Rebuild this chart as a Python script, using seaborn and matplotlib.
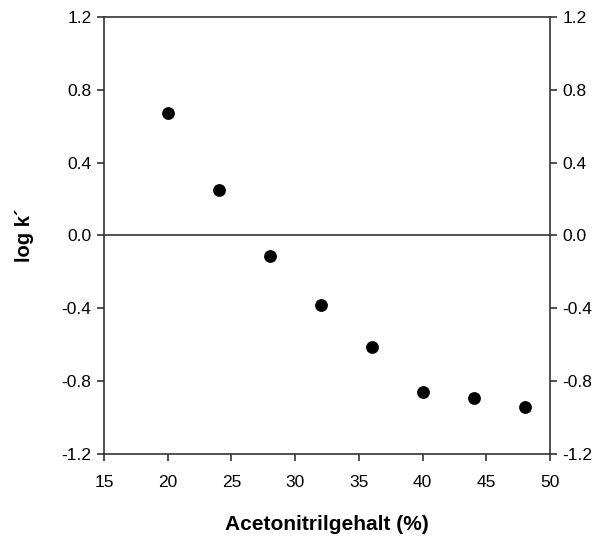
import pandas as pd
import matplotlib
matplotlib.use("Agg")
import matplotlib.pyplot as plt
import seaborn as sns

# Acetonitrile content (%) vs. log k'
acetonitril = [20, 24, 28, 32, 36, 40, 44, 48]
log_k = [0.67, 0.25, -0.11, -0.38, -0.61, -0.86, -0.89, -0.94]

xticks = [15, 20, 25, 30, 35, 40, 45, 50]
yticks = [-1.2, -0.8, -0.4, 0.0, 0.4, 0.8, 1.2]

df = pd.DataFrame({"x": acetonitril, "y": log_k})

sns.set_style("white")
plt.rcParams['font.family'] = ['Liberation Sans', 'DejaVu Sans']
plt.rcParams['text.color'] = 'black'
plt.rcParams['xtick.color'] = 'black'
plt.rcParams['ytick.color'] = 'black'
plt.rcParams['axes.labelcolor'] = 'black'

fig = plt.figure(figsize=(5.94, 5.37), dpi=100)
ax = fig.add_axes([0.175, 0.1546, 0.751, 0.8138])

sns.scatterplot(data=df, x="x", y="y", ax=ax, color="black", s=85,
                edgecolor="black", linewidth=0, zorder=3)
ax.axhline(0, color="#333333", linewidth=1.2, zorder=2)

ax.set_xlim(15, 50)
ax.set_ylim(-1.2, 1.2)
ax.set_xticks(xticks)
ax.set_yticks(yticks)
ax.set_yticklabels([f"{v:.1f}" for v in yticks])

for s in ax.spines.values():
    s.set_color("#333333")
    s.set_linewidth(1.2)

ax.tick_params(axis="both", direction="out", length=5, width=1.2, color="#333333",
               labelsize=12.5, pad=4, bottom=True, left=True)
ax.tick_params(axis="y", right=True, labelright=True)
ax.tick_params(axis="x", pad=10)

ax.set_xlabel("Acetonitrilgehalt (%)", fontsize=15, fontweight="bold", labelpad=18)
ax.set_ylabel("log k´", fontsize=14.5, fontweight="bold", labelpad=20)

fig.savefig("out.png", dpi=100)
